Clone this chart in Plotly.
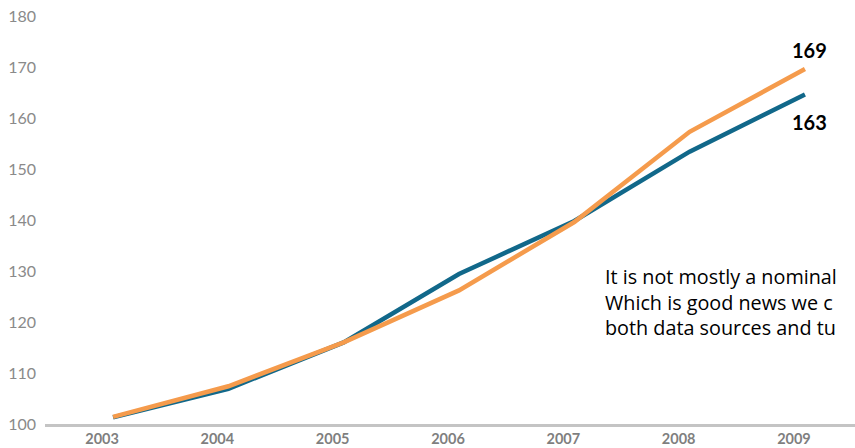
import plotly.graph_objects as go

years = [2003, 2004, 2005, 2006, 2007, 2008, 2009]
series_teal = [101.3, 106.9, 116.0, 129.4, 139.8, 153.4, 164.6]
series_orange = [101.4, 107.4, 116.0, 126.2, 139.6, 157.3, 169.6]
end_labels = ["169", "163"]
note_lines = ["It is not mostly a nominal", "Which is good news we c", "both data sources and tu"]
y_ticks = [100, 110, 120, 130, 140, 150, 160, 170, 180]

TEAL = "#11688a"
ORANGE = "#f59b4c"
FONT = "Lato"

fig = go.Figure()
fig.add_trace(go.Scatter(x=years, y=series_teal, mode="lines",
                         line=dict(color=TEAL, width=4.5), hoverinfo="skip"))
fig.add_trace(go.Scatter(x=years, y=series_orange, mode="lines",
                         line=dict(color=ORANGE, width=4.5), hoverinfo="skip"))

fig.add_annotation(x=years[-1], y=series_orange[-1], text="<b>%s</b>" % end_labels[0],
                   showarrow=False, yshift=19, xshift=5,
                   font=dict(family=FONT, size=20, color="#000000"))
fig.add_annotation(x=years[-1], y=series_teal[-1], text="<b>%s</b>" % end_labels[1],
                   showarrow=False, yshift=-27, xshift=5,
                   font=dict(family=FONT, size=20, color="#000000"))

fig.add_annotation(xref="paper", yref="paper", x=(603 - 45) / 810, y=(424 - 301.5) / 408,
                   xanchor="left", yanchor="middle", align="left", showarrow=False,
                   text="<br>".join(note_lines),
                   font=dict(family="Open Sans", size=19.8, color="#000000"))

fig.update_layout(
    width=855, height=448,
    margin=dict(l=45, r=0, t=16, b=24),
    plot_bgcolor="white", paper_bgcolor="white",
    showlegend=False,
    xaxis=dict(range=[2002.41, 2009.434], tickmode="array", tickvals=years,
               ticktext=[str(y) for y in years], showgrid=False, zeroline=False,
               showline=True, linecolor="#c4c4c4", linewidth=2.5,
               ticks="", ticklabelshift=-11,
               tickfont=dict(family=FONT, size=14.5, color="#7f7f7f", weight="bold")),
    yaxis=dict(range=[100, 180], tickmode="array", tickvals=y_ticks,
               showgrid=False, zeroline=False, showline=False, ticks="",
               ticklabelstandoff=8,
               tickfont=dict(family=FONT, size=16, color="#8a8a8a")),
)

fig.write_html("out.html")
